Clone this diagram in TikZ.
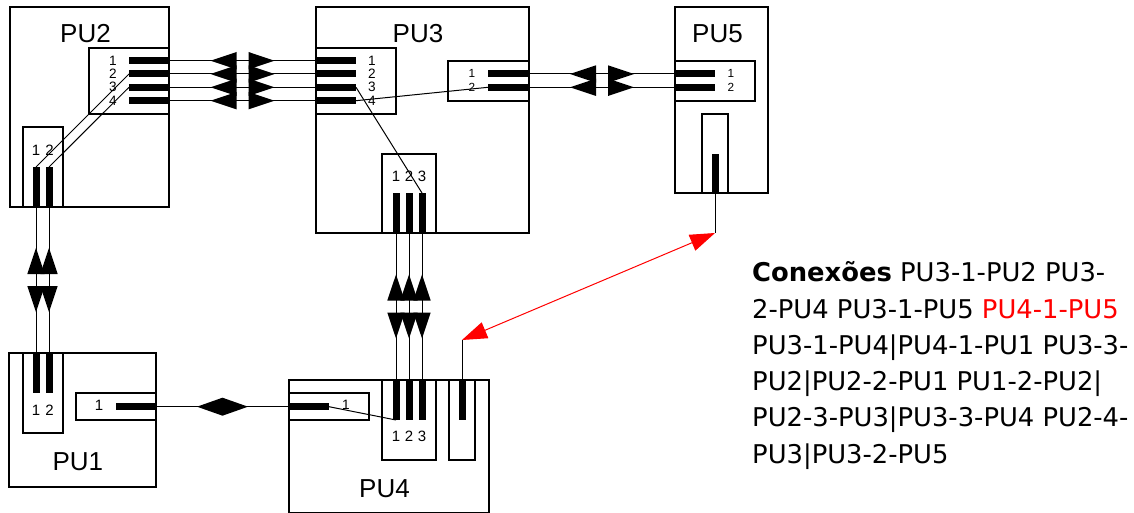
\documentclass[tikz,border=0pt]{standalone}
\usepackage{fontspec}
\setmainfont{Liberation Sans}
\newfontfamily\dejavu{DejaVu Sans}
\usetikzlibrary{fit,calc,arrows.meta}
\newcommand\mkbox[5]{\node[pubox, fit={(#2,#3) (#4,#5)}] (#1) {};}
\newcommand\hport[4]{\node[bar, fit={(#2,#4-3.5) (#3,#4+3.5)}] (#1) {};}
\newcommand\vport[4]{\node[bar, fit={(#2-3.5,#3) (#2+3.5,#4)}] (#1) {};}
\begin{document}
\begin{tikzpicture}[x=1pt,y=-1pt,
  pubox/.style={draw=black, line width=1.2pt, inner sep=0pt, outer sep=0pt},
  bar/.style={fill=black, draw=none, inner sep=0pt, outer sep=0pt},
  conn/.style={draw=black, line width=1pt},
  pulabel/.style={font=\fontsize{26}{30}\selectfont, inner sep=0pt},
  numS/.style={font=\fontsize{11.8}{12}\selectfont, inner sep=0pt},
  numM/.style={font=\fontsize{13.6}{14}\selectfont, inner sep=0pt},
  numL/.style={font=\fontsize{15}{16}\selectfont, inner sep=0pt},
  conx/.style={anchor=base west, inner sep=0pt, font=\dejavu\fontsize{25.8}{30}\selectfont},
  redlink/.style={draw=red, line width=1pt, {Triangle[length=25pt,width=17pt]}-{Triangle[length=25pt,width=17pt]}},
  pics/twotri/.style={code={
    \fill[black] (-32,0) -- (-6,-8.7) -- (-6,8.7) -- cycle;
    \fill[black] (32,0) -- (6,-8.7) -- (6,8.7) -- cycle;}},
  pics/diam/.style={code={
    \fill[black] (-25.5,0) -- (0,-9) -- (25.5,0) -- (0,9) -- cycle;}}
]
\path[use as bounding box] (0,0) rectangle (1134,513);

% ---------- PU2 ----------
\mkbox{pu2}{10}{7}{169}{207}
\node[pulabel] (pu2lab) at (85.5,33.8) {PU2};
\mkbox{pu2rbox}{89}{48}{169}{114}
\hport{pu2r1}{129}{169}{60.7}
\hport{pu2r2}{129}{169}{74}
\hport{pu2r3}{129}{169}{87.3}
\hport{pu2r4}{129}{169}{100.7}
\node[numM] (pu2n1) at (113,60.5) {1};
\node[numM] (pu2n2) at (113,73.8) {2};
\node[numM] (pu2n3) at (113,87.1) {3};
\node[numM] (pu2n4) at (113,100.5) {4};
\mkbox{pu2bbox}{23}{127}{63}{207}
\vport{pu2b1}{36}{167}{207}
\vport{pu2b2}{49}{167}{207}
\node[numL] (pu2m1) at (36,150.5) {1};
\node[numL] (pu2m2) at (49.5,150.5) {2};

% ---------- PU3 ----------
\mkbox{pu3}{316}{7}{529}{233}
\node[pulabel] (pu3lab) at (418,33.5) {PU3};
\mkbox{pu3lbox}{316}{48}{396}{114}
\hport{pu3l1}{316}{356}{60.7}
\hport{pu3l2}{316}{356}{74}
\hport{pu3l3}{316}{356}{87.3}
\hport{pu3l4}{316}{356}{100.7}
\node[numM] (pu3n1) at (372,60.5) {1};
\node[numM] (pu3n2) at (372,73.8) {2};
\node[numM] (pu3n3) at (372,87.1) {3};
\node[numM] (pu3n4) at (372,100.5) {4};
\mkbox{pu3rbox}{448}{61}{529}{101}
\hport{pu3r1}{488}{529}{74}
\hport{pu3r2}{488}{529}{87.3}
\node[numS] (pu3q1) at (472,73.5) {1};
\node[numS] (pu3q2) at (472,87) {2};
\mkbox{pu3bbox}{382}{154}{436}{233}
\vport{pu3b1}{396}{193}{233}
\vport{pu3b2}{409}{193}{233}
\vport{pu3b3}{422}{193}{233}
\node[numL] (pu3m1) at (396,176.7) {1};
\node[numL] (pu3m2) at (409,176.7) {2};
\node[numL] (pu3m3) at (422,176.7) {3};

% ---------- PU5 ----------
\mkbox{pu5}{675}{7}{768}{193}
\node[pulabel] (pu5lab) at (717.5,33.8) {PU5};
\mkbox{pu5lbox}{675}{61}{755}{101}
\hport{pu5p1}{675}{715}{74}
\hport{pu5p2}{675}{715}{87.3}
\node[numS] (pu5q1) at (731,73.5) {1};
\node[numS] (pu5q2) at (731,87) {2};
\mkbox{pu5bbox}{702}{114}{728}{193}
\vport{pu5b1}{715}{154}{193}
\coordinate (pu5tail) at (715,233);

% ---------- PU1 ----------
\mkbox{pu1}{9}{353}{156}{487}
\node[pulabel] (pu1lab) at (77.8,462) {PU1};
\mkbox{pu1tbox}{23}{353}{63}{433}
\vport{pu1t1}{36}{353}{393}
\vport{pu1t2}{49}{353}{393}
\node[numL] (pu1m1) at (36,410) {1};
\node[numL] (pu1m2) at (49.5,410) {2};
\mkbox{pu1rbox}{76}{393}{156}{420}
\hport{pu1r1}{116}{156}{406.7}
\node[numL] (pu1q1) at (99,405.5) {1};

% ---------- PU4 ----------
\mkbox{pu4}{289}{380}{489}{512.5}
\node[pulabel] (pu4lab) at (384.5,488.3) {PU4};
\mkbox{pu4lbox}{289}{393}{369}{420}
\hport{pu4l1}{289}{329}{406.7}
\node[numM] (pu4q1) at (346,405) {1};
\mkbox{pu4mbox}{382}{380}{436}{460}
\vport{pu4m1}{396}{380}{420}
\vport{pu4m2}{409}{380}{420}
\vport{pu4m3}{422}{380}{420}
\node[numL] (pu4n1) at (396,436.7) {1};
\node[numL] (pu4n2) at (409,436.7) {2};
\node[numL] (pu4n3) at (422,436.7) {3};
\mkbox{pu4rbox}{449}{380}{475}{460}
\vport{pu4r1}{462}{380}{420}
\coordinate (pu4tail) at (462,340);

% ---------- links between units ----------
\foreach \i in {1,2,3,4}{
  \draw[conn] (pu2r\i.east) -- (pu3l\i.west);
  \pic at ($(pu2r\i.east)!0.5!(pu3l\i.west)$) {twotri};
}
\foreach \i in {1,2}{
  \draw[conn] (pu3r\i.east) -- (pu5p\i.west);
  \pic at ($(pu3r\i.east)!0.5!(pu5p\i.west)$) {twotri};
  \draw[conn] (pu2b\i.south) -- (pu1t\i.north);
  \pic[rotate=90] at ($(pu2b\i.south)!0.5!(pu1t\i.north)$) {twotri};
}
\foreach \i in {1,2,3}{
  \draw[conn] (pu3b\i.south) -- (pu4m\i.north);
  \pic[rotate=90] at ($(pu3b\i.south)!0.5!(pu4m\i.north)$) {twotri};
}
\draw[conn] (pu1r1.east) -- (pu4l1.west);
\pic at ($(pu1r1.east)!0.5!(pu4l1.west)$) {diam};

\draw[conn] (pu5b1.south) -- (pu5tail);
\draw[conn] (pu4r1.north) -- (pu4tail);
\draw[redlink] (pu5tail) -- (pu4tail);

% ---------- internal links ----------
\draw[conn] (pu2b1.north) -- (pu2r2.west);
\draw[conn] (pu2b2.north) -- (pu2r3.west);
\draw[conn] (pu3l4.east) -- (pu3r2.west);
\draw[conn] (pu3l3.east) -- (pu3b3.north);
\draw[conn] (pu4l1.east) -- (pu4m1.south);

% ---------- legend ----------
\node[conx] (t1) at (752,281.7) {\textbf{Conexões} PU3-1-PU2 PU3-};
\node[conx] (t2) at (752,318) {2-PU4 PU3-1-PU5 \textcolor{red}{PU4-1-PU5}};
\node[conx] (t3) at (752,354.3) {PU3-1-PU4|PU4-1-PU1 PU3-3-};
\node[conx] (t4) at (752,390.6) {PU2|PU2-2-PU1 PU1-2-PU2|};
\node[conx] (t5) at (752,426.9) {PU2-3-PU3|PU3-3-PU4 PU2-4-};
\node[conx] (t6) at (752,463.2) {PU3|PU3-2-PU5};
\end{tikzpicture}
\end{document}
